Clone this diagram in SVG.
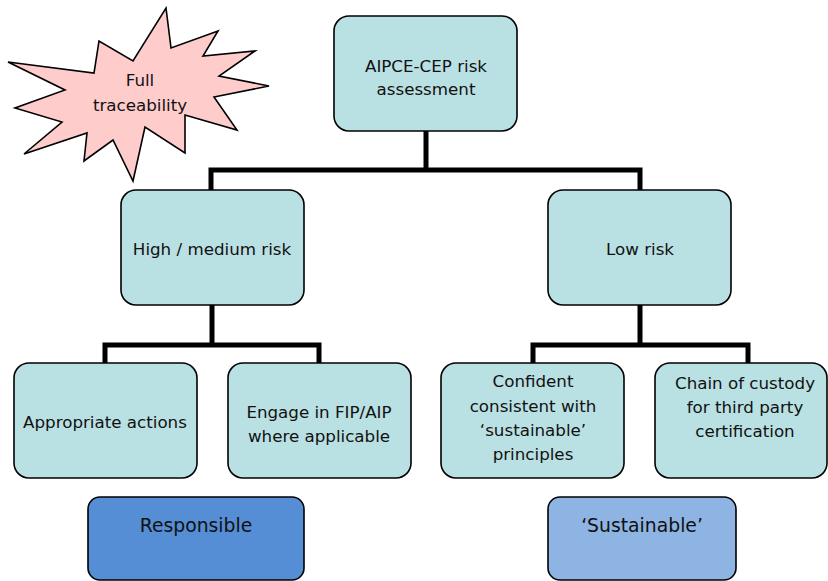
<svg xmlns="http://www.w3.org/2000/svg" width="828" height="581" viewBox="0 0 828 581">
<style>
.box{fill:#b9e0e3;stroke:#000;stroke-width:1.6}
.t{font-family:"DejaVu Sans",Verdana,sans-serif;font-size:16.7px;fill:#111;text-anchor:middle}
.tb{font-family:"DejaVu Sans",Verdana,sans-serif;font-size:18.8px;fill:#111;text-anchor:middle}
.c{fill:none;stroke:#000;stroke-width:5;stroke-linecap:butt;stroke-linejoin:miter}
</style>
<rect width="828" height="581" fill="#fff"/>
<g id="connectors">
<path class="c" d="M426 131V170"/>
<path class="c" d="M211 193V170H640V193"/>
<path class="c" d="M212 305V345"/>
<path class="c" d="M105 366V345H319V366"/>
<path class="c" d="M640 305V345"/>
<path class="c" d="M533 366V345H748V366"/>
</g>
<g id="star">
<polygon points="166,8 171,48 218,31 203,56 255,51 219,76 269,86 214,97 237,130 185,115 185,153 145,127 133,181 113,140 84,161 87,133 24,154 62,122 15,108 65,90 8,62 94,73 99,41 133,61" fill="#ffcccc" stroke="#000" stroke-width="1.6" stroke-linejoin="miter"/>
<text class="t" x="140" y="86">Full</text>
<text class="t" x="140" y="111">traceability</text>
</g>
<g id="n-top">
<rect class="box" x="334" y="16" width="183" height="115" rx="15"/>
<text class="t" x="426" y="72">AIPCE-CEP risk</text>
<text class="t" x="426" y="95">assessment</text>
</g>
<g id="n-high">
<rect class="box" x="121" y="190" width="183" height="115" rx="15"/>
<text class="t" x="212" y="255">High / medium risk</text>
</g>
<g id="n-low">
<rect class="box" x="548" y="190" width="183" height="115" rx="15"/>
<text class="t" x="640" y="255">Low risk</text>
</g>
<g id="n-appropriate">
<rect class="box" x="14" y="363" width="183" height="115" rx="15"/>
<text class="t" x="105" y="428">Appropriate actions</text>
</g>
<g id="n-engage">
<rect class="box" x="228" y="363" width="183" height="115" rx="15"/>
<text class="t" x="319" y="418">Engage in FIP/AIP</text>
<text class="t" x="319" y="442">where applicable</text>
</g>
<g id="n-confident">
<rect class="box" x="441" y="363" width="183" height="115" rx="15"/>
<text class="t" x="533" y="387">Confident</text>
<text class="t" x="533" y="412">consistent with</text>
<text class="t" x="533" y="436">‘sustainable’</text>
<text class="t" x="533" y="460">principles</text>
</g>
<g id="n-chain">
<rect class="box" x="655" y="363" width="172" height="115" rx="15"/>
<text class="t" x="745" y="389">Chain of custody</text>
<text class="t" x="745" y="413">for third party</text>
<text class="t" x="745" y="437">certification</text>
</g>
<g id="n-responsible">
<rect x="88" y="497" width="216" height="83" rx="12" fill="#558ed5" stroke="#000" stroke-width="1.6"/>
<text class="tb" x="196" y="532">Responsible</text>
</g>
<g id="n-sustainable">
<rect x="548" y="497" width="188" height="83" rx="12" fill="#8eb4e3" stroke="#000" stroke-width="1.6"/>
<text class="tb" x="642" y="532">‘Sustainable’</text>
</g>
</svg>
